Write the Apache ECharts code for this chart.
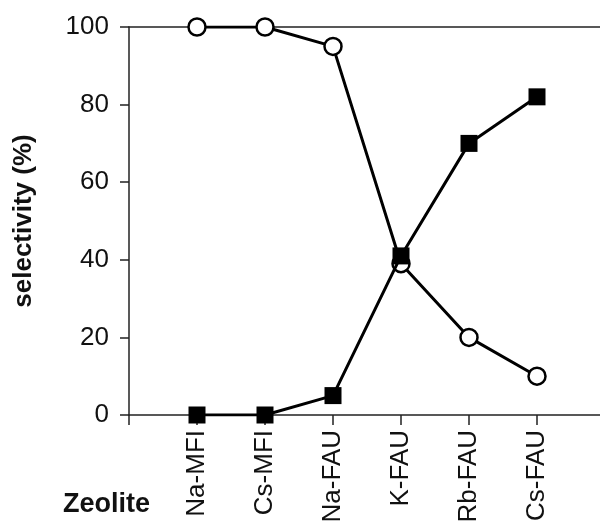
<!DOCTYPE html>
<html><head><meta charset="utf-8">
<script src="https://cdn.jsdelivr.net/npm/echarts@6/dist/echarts.min.js"></script>
<style>html,body{margin:0;padding:0;background:#fff}#c{width:600px;height:521px}</style>
</head><body><div id="c"></div>
<script>
const categories = ['Na-MFI','Cs-MFI','Na-FAU','K-FAU','Rb-FAU','Cs-FAU'];
const circleValues = [100, 100, 95, 39, 20, 10];
const squareValues = [0, 0, 5, 41, 70, 82];
const yTicks = [0, 20, 40, 60, 80, 100];

const chart = echarts.init(document.getElementById('c'));
const font = 'Liberation Sans, Arial, sans-serif';
chart.setOption({
  animation: false,
  backgroundColor: '#fff',
  grid: {left: 129, top: 27, right: -5, bottom: 106, containLabel: false, outerBoundsMode: 'none'},
  xAxis: [{
    type: 'value', min: 0, max: 7, interval: 1,
    axisLine: {show: true, lineStyle: {color: '#222', width: 1.5}},
    axisTick: {show: true, length: 10, lineStyle: {color: '#222', width: 1.5}},
    splitLine: {show: false},
    axisLabel: {
      rotate: 90, margin: 15, fontSize: 26, color: '#111', fontFamily: font,
      formatter: v => (v >= 1 && v <= categories.length && Number.isInteger(v)) ? categories[v - 1] : ''
    }
  }, {
    type: 'value', min: 0, max: 7, position: 'top',
    axisLine: {show: true, onZero: false, lineStyle: {color: '#222', width: 1.5}},
    axisTick: {show: false}, axisLabel: {show: false}, splitLine: {show: false}
  }],
  yAxis: {
    type: 'value', min: 0, max: 100, interval: 20,
    name: 'selectivity (%)', nameLocation: 'middle', nameGap: 92,
    nameTextStyle: {fontSize: 26, fontWeight: 'bold', color: '#111', fontFamily: font},
    axisLine: {show: true, lineStyle: {color: '#222', width: 1.5}},
    axisTick: {show: true, length: 9, lineStyle: {color: '#222', width: 1.5}},
    splitLine: {show: false},
    axisLabel: {fontSize: 26, color: '#111', margin: 20, fontFamily: font,
      formatter: v => yTicks.includes(v) ? String(v) : ''}
  },
  graphic: [{
    type: 'text', left: 63, top: 491,
    style: {text: 'Zeolite', fontSize: 27, fontWeight: 'bold', fill: '#111', fontFamily: font}
  }],
  series: [{
    type: 'line',
    data: circleValues.map((v, i) => [i + 1, v]),
    symbol: 'circle', symbolSize: 17,
    itemStyle: {color: '#fff', borderColor: '#000', borderWidth: 2.5},
    lineStyle: {color: '#000', width: 3},
    z: 2
  }, {
    type: 'line',
    data: squareValues.map((v, i) => [i + 1, v]),
    symbol: 'rect', symbolSize: 17,
    itemStyle: {color: '#000', borderColor: '#000', borderWidth: 0},
    lineStyle: {color: '#000', width: 3},
    z: 3
  }]
});
</script></body></html>
